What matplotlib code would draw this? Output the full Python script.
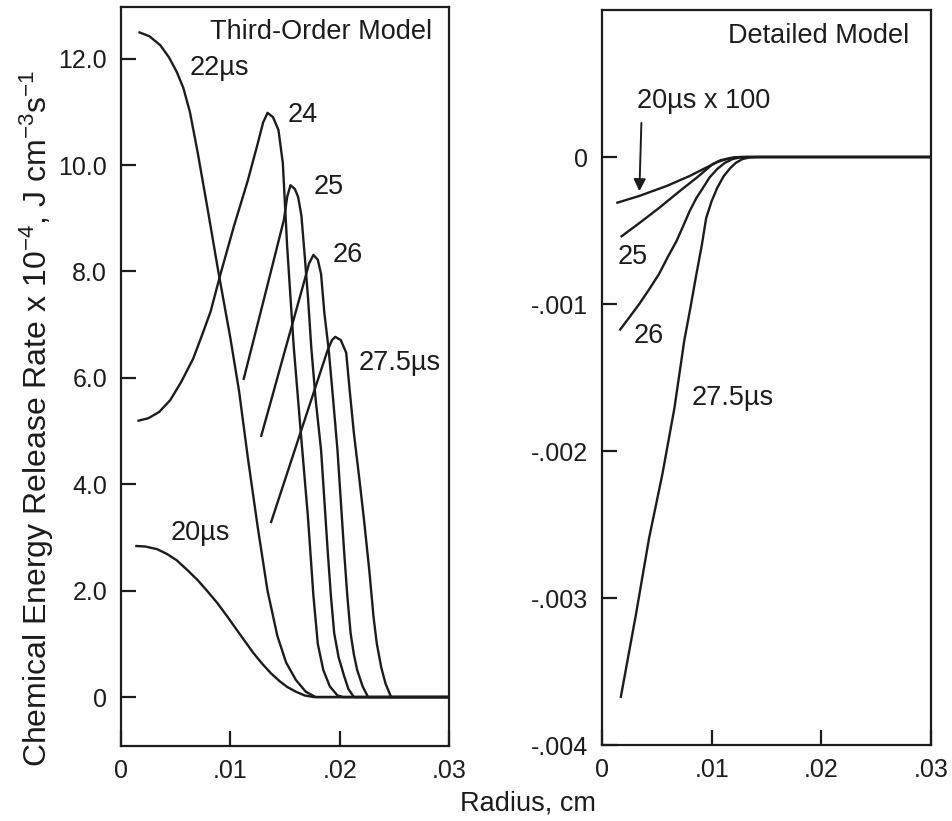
import matplotlib
matplotlib.use("Agg")
import matplotlib.pyplot as plt

plt.rcParams['font.family'] = ['Liberation Sans', 'DejaVu Sans']
plt.rcParams['mathtext.fontset'] = 'custom'
plt.rcParams['mathtext.rm'] = 'Liberation Sans'
plt.rcParams['mathtext.it'] = 'Liberation Sans'

INK = '#1c1c1c'

# ---- Third-Order Model (left), rate x 1e-4 J cm^-3 s^-1 vs radius, cm
t20_x = [0.0013, 0.0022, 0.0033, 0.0042, 0.0051, 0.0060, 0.0070, 0.0079, 0.0088, 0.0097, 0.0106,
         0.0114, 0.0121, 0.0129, 0.0137, 0.0145, 0.0152, 0.0160, 0.0168, 0.0176, 0.030]
t20_y = [2.84, 2.83, 2.78, 2.69, 2.57, 2.40, 2.20, 1.99, 1.77, 1.52, 1.26,
         1.03, 0.83, 0.63, 0.45, 0.30, 0.19, 0.10, 0.03, 0.0, 0.0]

t22_x = [0.0016, 0.0026, 0.0036, 0.0044, 0.0051, 0.0057, 0.0063, 0.0070, 0.0079, 0.0089, 0.0100,
         0.0108, 0.0116, 0.0125, 0.0134, 0.0143, 0.0151, 0.0160, 0.0169, 0.0178, 0.030]
t22_y = [12.5, 12.42, 12.25, 12.02, 11.75, 11.45, 11.0, 10.25, 9.2, 8.0, 6.75,
         5.75, 4.5, 3.2, 2.0, 1.15, 0.65, 0.32, 0.1, 0.0, 0.0]

t24_x = [0.0015, 0.0025, 0.0035, 0.0045, 0.0055, 0.0066, 0.0075, 0.0082, 0.0091, 0.0103, 0.0116,
         0.0125, 0.0130, 0.0134, 0.0139, 0.0144, 0.0148, 0.0152, 0.0158, 0.0164, 0.0171, 0.0176,
         0.0180, 0.0185, 0.0191, 0.0198, 0.0203, 0.030]
t24_y = [5.19, 5.24, 5.36, 5.58, 5.92, 6.36, 6.85, 7.25, 7.95, 8.83, 9.71,
         10.40, 10.80, 10.98, 10.90, 10.66, 10.04, 8.46, 6.58, 5.08, 3.38, 1.90,
         1.0, 0.51, 0.2, 0.03, 0.0, 0.0]

t25_x = [0.0112, 0.0131, 0.0149, 0.0152, 0.0155, 0.0159, 0.0162, 0.0165, 0.0168, 0.0171, 0.0174,
         0.0178, 0.0183, 0.0186, 0.0189, 0.0192, 0.0195, 0.0199, 0.0204, 0.0208, 0.0213, 0.030]
t25_y = [5.96, 7.50, 8.97, 9.40, 9.62, 9.55, 9.40, 9.05, 8.30, 7.52, 6.58,
         5.60, 4.64, 3.70, 2.76, 1.90, 1.20, 0.75, 0.40, 0.15, 0.0, 0.0]

t26_x = [0.0128, 0.0139, 0.0148, 0.0157, 0.0167, 0.0172, 0.0176, 0.0180, 0.0183, 0.0186, 0.0190,
         0.0194, 0.0198, 0.0201, 0.0204, 0.0207, 0.0210, 0.0213, 0.0216, 0.0221, 0.0226, 0.030]
t26_y = [4.89, 5.70, 6.37, 7.03, 7.77, 8.15, 8.31, 8.22, 7.95, 7.22, 6.52,
         5.60, 4.64, 3.70, 2.76, 1.90, 1.20, 0.80, 0.51, 0.20, 0.0, 0.0]

t275_x = [0.0137, 0.0164, 0.0189, 0.0193, 0.0196, 0.0201, 0.0206, 0.0209, 0.0213, 0.0218, 0.0222,
          0.0227, 0.0231, 0.0234, 0.0238, 0.0242, 0.0247, 0.030]
t275_y = [3.27, 4.96, 6.52, 6.71, 6.77, 6.71, 6.47, 5.80, 4.96, 4.10, 3.38,
          2.40, 1.50, 1.00, 0.56, 0.25, 0.0, 0.0]

# ---- Detailed Model (right)
d20_x = [0.0013, 0.0034, 0.0059, 0.0080, 0.0098, 0.0106, 0.0114, 0.0120, 0.0126, 0.030]
d20_y = [-0.000313, -0.000265, -0.000197, -0.000129, -0.000061, -0.000032, -0.000014, -0.000004, 0.0, 0.0]

d25_x = [0.0017, 0.0034, 0.0052, 0.0071, 0.0086, 0.0101, 0.0108, 0.0117, 0.0122, 0.0128, 0.030]
d25_y = [-0.000544, -0.00045, -0.000347, -0.000231, -0.000143, -0.000048, -0.000022, -0.000007,
         -0.000002, 0.0, 0.0]

d26_x = [0.0016, 0.0025, 0.0034, 0.0043, 0.0052, 0.0060, 0.0068, 0.0074, 0.0080, 0.0086, 0.0092,
         0.0098, 0.0105, 0.0112, 0.0119, 0.0126, 0.0132, 0.030]
d26_y = [-0.00118, -0.00109, -0.00100, -0.00090, -0.000796, -0.00068, -0.000571, -0.00047, -0.000367,
         -0.00028, -0.000211, -0.00014, -0.000082, -0.00004, -0.000014, -0.000003, 0.0, 0.0]

d275_x = [0.0017, 0.0031, 0.0043, 0.0055, 0.0066, 0.0075, 0.0081, 0.0086, 0.0091, 0.0095, 0.0100,
          0.0105, 0.0111, 0.0117, 0.0122, 0.0128, 0.0134, 0.0141, 0.030]
d275_y = [-0.00368, -0.00311, -0.00259, -0.00216, -0.00171, -0.00125, -0.00101, -0.00080, -0.00060,
          -0.000415, -0.00030, -0.000211, -0.00013, -0.000075, -0.00004, -0.000014, -0.000004, 0.0, 0.0]

x_ticks = [0, 0.01, 0.02, 0.03]
x_labels = ['0', '.01', '.02', '.03']
left_ticks = [0, 2, 4, 6, 8, 10, 12]
left_labels = ['0', '2.0', '4.0', '6.0', '8.0', '10.0', '12.0']
right_ticks = [0, -0.001, -0.002, -0.003, -0.004]
right_labels = ['0', '-.001', '-.002', '-.003', '-.004']

fig = plt.figure(figsize=(9.52, 8.21), dpi=100)
W, H = 952, 821
ax1 = fig.add_axes([121 / W, 1 - 746 / H, (449 - 121) / W, (746 - 7) / H])
ax2 = fig.add_axes([602 / W, 1 - 745 / H, (931 - 602) / W, (745 - 10) / H])

lw = 1.7
for xs, ys in [(t20_x, t20_y), (t22_x, t22_y), (t24_x, t24_y),
               (t25_x, t25_y), (t26_x, t26_y), (t275_x, t275_y)]:
    ax1.plot(xs, ys, color=INK, lw=lw, solid_capstyle='butt', solid_joinstyle='round')

for xs, ys in [(d20_x, d20_y), (d25_x, d25_y), (d26_x, d26_y), (d275_x, d275_y)]:
    ax2.plot(xs, ys, color=INK, lw=lw, solid_capstyle='butt', solid_joinstyle='round')

ax1.set_xlim(0, 0.03)
ax1.set_ylim(-0.92, 12.97)
ax2.set_xlim(0, 0.03)
ax2.set_ylim(-0.004, 0.001)

ax1.set_yticks(left_ticks)
ax1.set_yticklabels(left_labels)
ax2.set_yticks(right_ticks)
ax2.set_yticklabels(right_labels)

for ax in (ax1, ax2):
    ax.set_xticks(x_ticks)
    ax.set_xticklabels(x_labels)
    ax.tick_params(axis='both', direction='in', length=11, width=1.6,
                   labelsize=18, colors=INK, top=False, right=False)
    ax.tick_params(axis='y', pad=10)
    ax.tick_params(axis='x', pad=9)
    for s in ax.spines.values():
        s.set_linewidth(1.6)
        s.set_color(INK)

fs = 19.5
ax1.text(0.0285, 12.5, 'Third-Order Model', ha='right', va='center', fontsize=fs, color=INK)
ax1.text(0.0063, 11.82, '22µs', ha='left', va='center', fontsize=fs, color=INK)
ax1.text(0.0152, 10.94, '24', ha='left', va='center', fontsize=fs, color=INK)
ax1.text(0.0176, 9.59, '25', ha='left', va='center', fontsize=fs, color=INK)
ax1.text(0.0194, 8.31, '26', ha='left', va='center', fontsize=fs, color=INK)
ax1.text(0.0217, 6.28, '27.5µs', ha='left', va='center', fontsize=fs, color=INK)
ax1.text(0.0045, 3.08, '20µs', ha='left', va='center', fontsize=fs, color=INK)

ax2.text(0.0280, 0.00082, 'Detailed Model', ha='right', va='center', fontsize=fs, color=INK)
ax2.text(0.0032, 0.00038, '20µs x 100', ha='left', va='center', fontsize=fs, color=INK)
ax2.text(0.0014, -0.00068, '25', ha='left', va='center', fontsize=fs, color=INK)
ax2.text(0.0029, -0.00122, '26', ha='left', va='center', fontsize=fs, color=INK)
ax2.text(0.0082, -0.00164, '27.5µs', ha='left', va='center', fontsize=fs, color=INK)
ax2.annotate('', xy=(0.0034, -0.000252), xytext=(0.0036, 0.00025),
             arrowprops=dict(arrowstyle='-|>', color=INK, lw=1.4, mutation_scale=18))

fig.text(37 / W, 1 - 418 / H,
         'Chemical Energy Release Rate x 10$^{-4}$, J cm$^{-3}$s$^{-1}$',
         rotation=90, ha='center', va='center', fontsize=23, color=INK)
fig.text(528 / W, 1 - 803 / H, 'Radius, cm', ha='center', va='center', fontsize=19.5, color=INK)

fig.savefig('out.png', dpi=100)
